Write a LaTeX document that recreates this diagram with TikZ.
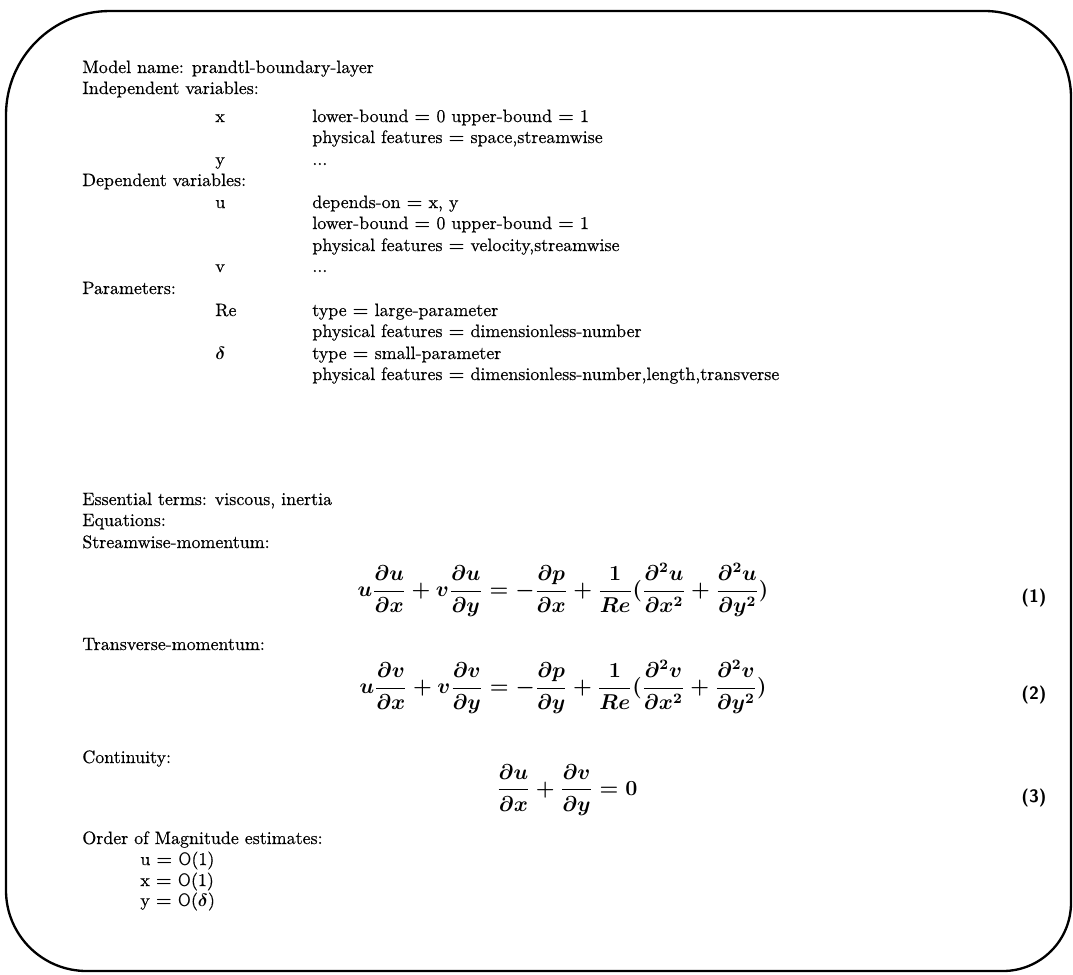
\documentclass[tikz,border=0pt]{standalone}
\usepackage{amsmath}
\usepackage{fontspec}
\setmainfont{Latin Modern Roman}[FakeBold=0.5]
\usetikzlibrary{positioning}

\newcommand{\pd}[2]{\frac{\partial #1}{\partial #2}}
\newcommand{\eqmomx}{$\displaystyle u\pd{u}{x}+v\pd{u}{y}=-\pd{p}{x}+\frac{1}{Re}(\frac{\partial^2u}{\partial x^2}+\frac{\partial^2u}{\partial y^2})$}
\newcommand{\eqmomy}{$\displaystyle u\pd{v}{x}+v\pd{v}{y}=-\pd{p}{y}+\frac{1}{Re}(\frac{\partial^2v}{\partial x^2}+\frac{\partial^2v}{\partial y^2})$}
\newcommand{\eqcont}{$\displaystyle \pd{u}{x}+\pd{v}{y}=0$}

\tikzset{
    txt/.style={anchor=base west, inner sep=0pt, font=\boldmath},
    formula/.style={inner sep=0pt, font=\fontsize{11.6}{14}\selectfont\boldmath},
    eqno/.style={anchor=base east, inner sep=0pt, font=\sffamily\bfseries},
}

\begin{document}
\begin{tikzpicture}[x=0.558pt, y=-0.558pt]
    \useasboundingbox (0,0) rectangle (1073,975);
    % frame
    \draw [line width=1.3pt, rounded corners=58] (6,500) |- (540,11)
        [rounded corners=48] -| (1071,500)
        [rounded corners=38] |- (540,971)
        [rounded corners=45] -| (6,500);
    % header
    \node (model) [txt] at (82,73) {Model name: prandtl-boundary-layer};
    \node (indep) [txt] at (82,94) {Independent variables:};
    \node (varx) [txt] at (215,122) {x};
    \node [txt] at (312,122) {lower-bound $=$ 0 upper-bound $=$ 1};
    \node [txt] at (312,143) {physical features $=$ space,streamwise};
    \node (vary) [txt] at (215,165) {y};
    \node [txt] at (312,165) {...};
    \node (dep) [txt] at (82,186) {Dependent variables:};
    \node (varu) [txt] at (215,208) {u};
    \node [txt] at (312,208) {depends-on $=$ x, y};
    \node [txt] at (312,229) {lower-bound $=$ 0 upper-bound $=$ 1};
    \node [txt] at (312,251) {physical features $=$ velocity,streamwise};
    \node (varv) [txt] at (215,272) {v};
    \node [txt] at (312,272) {...};
    \node (param) [txt] at (82,294) {Parameters:};
    \node (parre) [txt] at (215,316) {Re};
    \node [txt] at (312,316) {type $=$ large-parameter};
    \node [txt] at (312,337) {physical features $=$ dimensionless-number};
    \node (pardelta) [txt] at (215,359) {$\delta$};
    \node [txt] at (312,359) {type $=$ small-parameter};
    \node [txt] at (312,380) {physical features $=$ dimensionless-number,length,transverse};
    % equations
    \node (terms) [txt] at (82,505) {Essential terms: viscous, inertia};
    \node (eqs) [txt] at (82,526) {Equations:};
    \node (stream) [txt] at (82,548) {Streamwise-momentum:};
    \node (momx) [formula] at (563,590) {\eqmomx};
    \node [eqno] at (1047,602) {(1)};
    \node (trans) [txt] at (82,650) {Transverse-momentum:};
    \node (momy) [formula] at (563,687) {\eqmomy};
    \node [eqno] at (1047,699) {(2)};
    \node (cont) [txt] at (82,763) {Continuity:};
    \node (contin) [formula] at (567,790) {\eqcont};
    \node [eqno] at (1047,802) {(3)};
    % estimates
    \node (order) [txt] at (82,844) {Order of Magnitude estimates:};
    \node [txt] at (140,865) {u $=$ \textsf{O}(1)};
    \node [txt] at (140,886) {x $=$ \textsf{O}(1)};
    \node [txt] at (140,906) {y $=$ \textsf{O}($\delta$)};
\end{tikzpicture}
\end{document}
